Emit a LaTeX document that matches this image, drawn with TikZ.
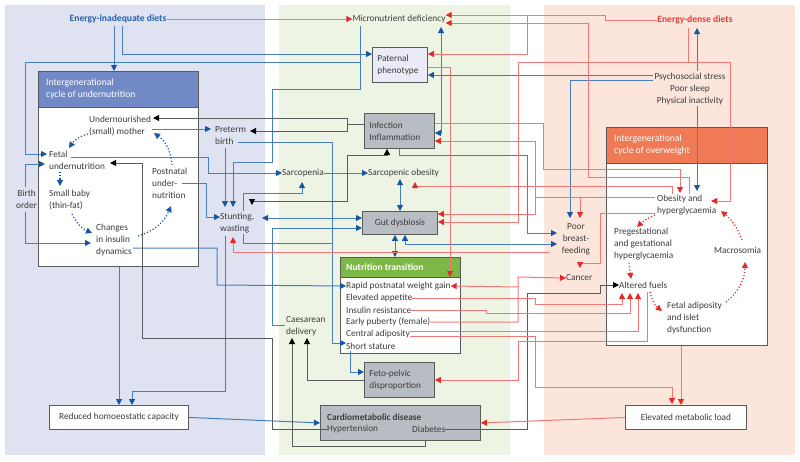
\documentclass[tikz,border=0pt]{standalone}
\usepackage{fontspec}
\setmainfont{Carlito}
\usetikzlibrary{arrows.meta}
\definecolor{bgblue}{RGB}{223,227,241}
\definecolor{bggreen}{RGB}{237,244,228}
\definecolor{bgpink}{RGB}{252,230,220}
\definecolor{headblue}{RGB}{113,138,198}
\definecolor{headred}{RGB}{240,122,86}
\definecolor{headgreen}{RGB}{125,184,70}
\definecolor{greybox}{RGB}{184,189,196}
\definecolor{patfill}{RGB}{234,235,247}
\definecolor{blline}{RGB}{72,125,190}
\definecolor{bltip}{RGB}{22,86,164}
\definecolor{rdline}{RGB}{242,120,120}
\definecolor{rdtip}{RGB}{232,40,40}
\definecolor{gyline}{RGB}{90,90,90}
\definecolor{txtgrey}{RGB}{60,60,60}
\definecolor{blbold}{RGB}{38,96,170}
\definecolor{rdbold}{RGB}{232,60,55}

\tikzset{
  bt/.tip={Triangle[length=6pt,width=6pt,color=bltip]},
  rt/.tip={Triangle[length=6pt,width=6pt,color=rdtip]},
  kt/.tip={Triangle[length=6pt,width=6pt,color=black]},
  lbl/.style={font=\fontsize{9.3}{12}\selectfont, text=txtgrey, inner sep=0pt, align=left, anchor=west},
  boxed/.style={draw=gyline, line width=0.9pt, inner sep=0pt, anchor=north west,
    font=\fontsize{9.3}{12}\selectfont, text=txtgrey, align=left},
  headtxt/.style={lbl, text=white, font=\fontsize{9.6}{12.5}\selectfont},
  bl/.style={draw=blline, line width=1pt},
  rd/.style={draw=rdline, line width=1pt},
  gy/.style={draw=gyline, line width=1pt},
  blA/.style={bl, -bt}, blAA/.style={bl, bt-bt},
  rdA/.style={rd, -rt},
  gyA/.style={gy, -kt}, gyAA/.style={gy, kt-kt},
  bld/.style={draw=bltip, line width=1.2pt, dash pattern=on 1.2pt off 2pt, -bt},
  rdd/.style={draw=rdtip, line width=1.2pt, dash pattern=on 1.2pt off 2pt, -rt}
}

\begin{document}
\begin{tikzpicture}[x=1pt,y=-1pt]
\useasboundingbox (0,0) rectangle (800,461);
% panels
\fill[bgblue] (5,5) rectangle (265,455);
\fill[bggreen] (279,5) rectangle (510,455);
\fill[bgpink] (544,5) rectangle (795,455);

% cycle of undernutrition
\node[boxed, fill=white, minimum width=160pt, minimum height=195pt] (cycU) at (38,71) {};
\node[boxed, fill=headblue, minimum width=160pt, minimum height=36pt] (cycUh) at (38,71) {};
\node[headtxt] (cycUt) at (46,89) {Intergenerational\\cycle of undernutrition};
% cycle of overweight
\node[boxed, fill=white, minimum width=161pt, minimum height=218pt] (cycO) at (606,127) {};
\node[boxed, fill=headred, minimum width=161pt, minimum height=36pt] (cycOh) at (606,127) {};
\node[headtxt] (cycOt) at (614,145) {Intergenerational\\cycle of overweight};
% nutrition transition
\node[boxed, fill=white, minimum width=120pt, minimum height=96pt] (nutr) at (340,257) {};
\node[boxed, fill=headgreen, minimum width=120pt, minimum height=20pt] (nutrh) at (340,257) {};
\node[headtxt, font=\fontsize{9.6}{12}\selectfont\bfseries] (nutrt) at (346,267) {Nutrition transition};
\node[lbl] (rapid) at (346,286) {Rapid postnatal weight gain};
\node[lbl] (appet) at (346,298) {Elevated appetite};
\node[lbl] (insres) at (346,310) {Insulin resistance};
\node[lbl] (puberty) at (346,322) {Early puberty (female)};
\node[lbl] (central) at (346,334) {Central adiposity};
\node[lbl] (short) at (346,346) {Short stature};

% other boxes
\node[boxed, fill=patfill, minimum width=55pt, minimum height=35pt, text width=45pt] (pat) at (372,47) {Paternal\\phenotype};
\node[boxed, fill=greybox, minimum width=70pt, minimum height=35pt, text width=60pt] (infect) at (364,113) {Infection\\Inflammation};
\node[boxed, fill=greybox, minimum width=75pt, minimum height=23pt, align=center] (gut) at (362,211) {Gut dysbiosis};
\node[boxed, fill=greybox, minimum width=70pt, minimum height=35pt, text width=60pt] (feto) at (364,362) {Feto-pelvic\\disproportion};
\node[boxed, fill=greybox, minimum width=160pt, minimum height=35pt] (cardio) at (320,405) {};
\node[lbl, font=\fontsize{9.3}{12}\selectfont\bfseries] (cardiot) at (327,417) {Cardiometabolic disease};
\node[lbl] (hyper) at (327,429) {Hypertension};
\node[lbl] (diab) at (412,429) {Diabetes};
\node[boxed, fill=white, minimum width=139pt, minimum height=24pt, align=center] (reduced) at (49,405) {Reduced homoeostatic capacity};
\node[boxed, fill=white, minimum width=121pt, minimum height=24pt, align=center] (elev) at (625,405) {Elevated metabolic load};

% free labels
\node[lbl, anchor=center, text=blbold, font=\fontsize{9.6}{12}\selectfont\bfseries] (elow) at (118,19) {Energy-inadequate diets};
\node[lbl, anchor=center] (micro) at (399,19) {Micronutrient deficiency};
\node[lbl, anchor=center, text=rdbold, font=\fontsize{9.6}{12}\selectfont\bfseries] (ehigh) at (695,20) {Energy-dense diets};
\node[lbl, anchor=center, align=center] (psycho) at (690,89) {Psychosocial stress\\Poor sleep\\Physical inactivity};
\node[lbl] (mother) at (89,126) {Undernourished\\(small) mother};
\node[lbl] (fetal) at (49,160) {Fetal\\undernutrition};
\node[lbl] (small) at (49,200) {Small baby\\(thin-fat)};
\node[lbl] (changes) at (96,240) {Changes\\in insulin\\dynamics};
\node[lbl] (postnat) at (152,183) {Postnatal\\under-\\nutrition};
\node[lbl, align=center] (birth) at (16,199) {Birth\\order};
\node[lbl] (preterm) at (215,136) {Preterm\\birth};
\node[lbl] (sarc) at (282,173) {Sarcopenia};
\node[lbl] (sarcob) at (368,173) {Sarcopenic obesity};
\node[lbl] (stunt) at (220,223) {Stunting,\\wasting};
\node[lbl] (caes) at (286,326) {Caesarean\\delivery};
\node[lbl, anchor=center, align=center] (poorbf) at (576,239) {Poor\\breast-\\feeding};
\node[lbl] (cancer) at (566,278) {Cancer};
\node[lbl] (altered) at (619,285) {Altered fuels};
\node[lbl] (obes) at (657,205) {Obesity and\\hyperglycaemia};
\node[lbl] (preg) at (614,244) {Pregestational\\and gestational\\hyperglycaemia};
\node[lbl] (macro) at (714,250) {Macrosomia};
\node[lbl] (fetad) at (667,318) {Fetal adiposity\\and islet\\dysfunction};

% blue connectors
\draw[blA] (114,26) -- (114,0 |- cycU.north);
\draw[blA] (122,26) |- (pat.west |- 0,54);
\draw[blA] (360,26) |- (25,62) |- (47,154);
\draw[blA] (360,62) |- (272,89) |- (233,162) -- (233,207);
\draw[blA] (152,129) -- (211,129);
\draw[blA] (71,157) -| (208,173) -- (sarc.west);
\draw[blA] (182,183) -| (206,217) -- (stunt.west |- 0,217);
\draw[blA] (225,148) -- (225,207);
\draw[blA] (238,142) -| (332,343) -- (short.west |- 0,343);
\draw[bl] (243,234) |- (332,243);
\draw[blA] (243,211) |- (302,193) -- (302,182);
\draw[blAA] (262,218) -- (gut.west |- 0,218);
\draw[blA] (285,325) -| (272,228) -- (gut.west |- 0,228);
\draw[blA] (sarc.east) -- (sarcob.west);
\draw[blAA] (400,179) -- (gut.north -| 400,0);
\draw[blAA] (395,0 |- gut.south) -- (395,0 |- nutr.north);
\draw[blAA] (405,0 |- gut.south) |- (557,244);
\draw[blA] (399,0 |- infect.south) |- (527,155) |- (557,233);
\draw[blAA] (infect.east |- 0,133) -| (441,27);
\draw[blA] (653,75) -- (pat.east |- 0,75);
\draw[blA] (653,80) -| (570,218);
\draw[blA] (697,71) -- (697,28);
\draw[blA] (697,106) -- (697,191);
\draw[blA] (25,187) |- (45,164);
\draw[blA] (25,212) |- (91,243);
\draw[blA] (133,248) -| (217,285) -- (rapid.west);
\draw[blA] (119,0 |- cycU.south) -- (119,0 |- reduced.north);
\draw[blA] (225,236) |- (132,391) -- (132,0 |- reduced.north);
\draw[blA] (reduced.east) -- (cardio.west);
\draw[blA] (350,351) |- (feto.west |- 0,372);

% blue dotted cycle
\draw[bld] (88,134) to[bend right=20] (69,148);
\draw[bld] (60,172) -- (60,186);
\draw[bld] (72,214) to[bend right=20] (92,233);
\draw[bld] (138,236) to[bend right=25] (171,206);
\draw[bld] (172,165) to[bend right=25] (154,133);

% black connectors
\draw[gyA] (infect.west |- 0,124) -| (347,118) -- (153,118);
\draw[gyA] (347,124) |- (250,131);
\draw[gyAA] (252,205) |- (347,201) |- (387,155) -- (387,0 |- infect.south);
\draw[gyA] (hyper.west) -| (272,338) -| (142,163) -- (110,163);
\draw[gyA] (425,0 |- cardio.south) |- (292,446) -- (292,338);
\draw[gyA] (feto.west |- 0,380) -| (307,338);
\draw[gyA] (diab.east) -| (527,293) -| (600,285) -- (altered.west);

% red connectors
\draw[rdA] (elow.east) -- (micro.west);
\draw[rdA] (ehigh.west) -| (605,15) -- (micro.east |- 0,15);
\draw[rdA] (527,15) |- (pat.east |- 0,54);
\draw[rdA] (689,194) |- (588,177) |- (micro.east |- 0,23);
\draw[rdA] (688,28) |- (518,62) |- (gut.east |- 0,222);
\draw[rdA] (688,62) -| (730,201) -- (711,201);
\draw[rdA] (pat.east |- 0,67) -| (450,277);
\draw[rdA] (infect.east |- 0,123) -| (543,169) -| (680,193);
\draw[rdA] (655,197) -| (535,141) -- (infect.east |- 0,141);
\draw[rdA] (535,197) |- (gut.east |- 0,214);
\draw[rdA] (672,194) |- (415,186) -- (415,182);
\draw[rdA] (580,197) -- (580,218);
\draw[rdA] (655,213) -| (600,263) -| (580,268);
\draw[rdA] (550,252) -| (233,237);
\draw[rdA] (puberty.east) -| (518,277) -- (cancer.west);
\draw[rdA] (518,287) -- (rapid.east);
\draw[rdA] (elev.west) -- (cardio.east);
\draw[rdA] (681,0 |- cycO.south) -- (681,0 |- elev.north);
\draw[rdA] (central.east |- 0,336) -| (535,387) -| (672,404);
\draw[rdA] (647,292) |- (518,341) |- (feto.east |- 0,380);
\draw[rdA] (appet.east) -| (535,304) -| (622,293);
\draw[rdA] (insres.east) -| (486,313) -| (630,293);
\draw[rdA] (central.east |- 0,331) -| (638,293);

% red dotted cycle
\draw[rdd] (655,215) to[bend right=10] (637,227);
\draw[rdd] (629,263) -- (631,279);
\draw[rdd] (650,292) to[bend right=20] (662,311);
\draw[rdd] (726,302) to[bend right=25] (745,262);
\draw[rdd] (742,240) to[bend right=15] (721,211);
\end{tikzpicture}
\end{document}
